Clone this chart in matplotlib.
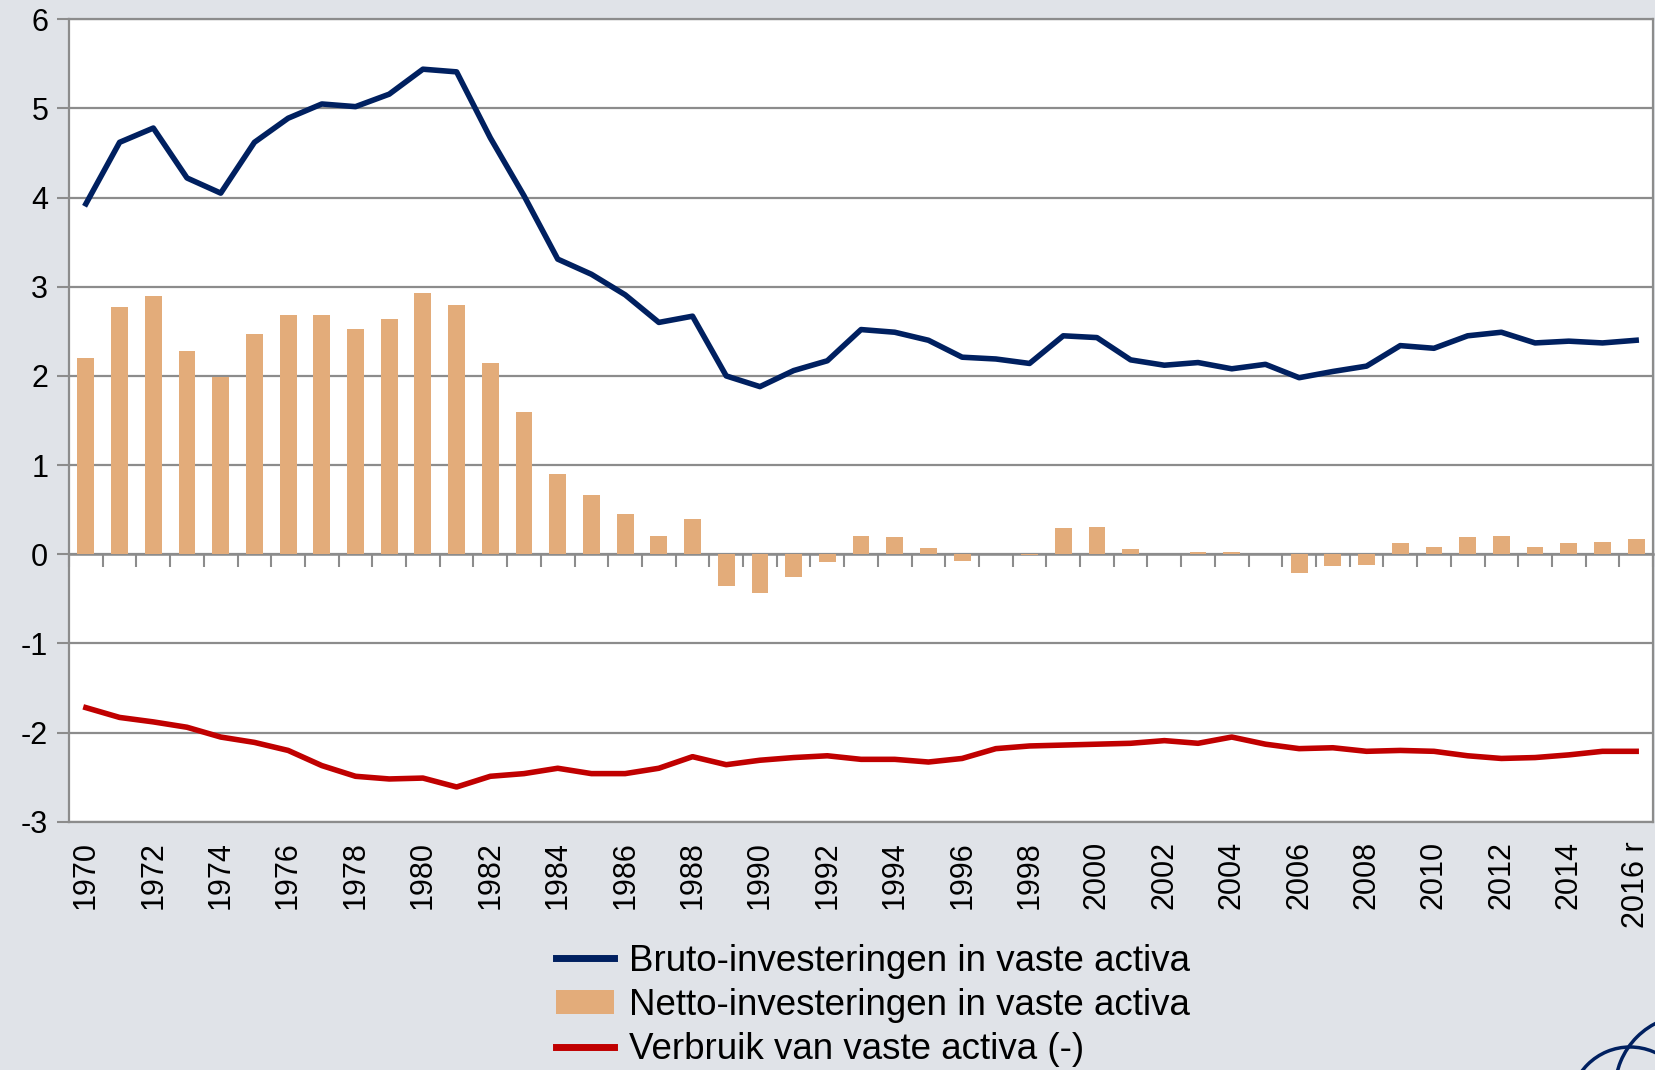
import matplotlib
matplotlib.use("Agg")
import matplotlib.pyplot as plt
import numpy as np
from matplotlib.patches import Arc, Patch
from matplotlib.lines import Line2D

years = list(range(1970, 2017))

bruto = [3.93, 4.62, 4.78, 4.22, 4.05, 4.62, 4.89, 5.05, 5.02, 5.16,
         5.44, 5.41, 4.67, 4.02, 3.31, 3.14, 2.91, 2.60, 2.67, 2.00,
         1.88, 2.06, 2.17, 2.52, 2.49, 2.40, 2.21, 2.19, 2.14, 2.45,
         2.43, 2.18, 2.12, 2.15, 2.08, 2.13, 1.98, 2.05, 2.11, 2.34,
         2.31, 2.45, 2.49, 2.37, 2.39, 2.37, 2.40]

netto = [2.20, 2.77, 2.90, 2.28, 1.99, 2.47, 2.68, 2.68, 2.53, 2.64,
         2.93, 2.79, 2.15, 1.59, 0.90, 0.67, 0.45, 0.20, 0.40, -0.36,
         -0.43, -0.25, -0.09, 0.21, 0.19, 0.07, -0.07, 0.005, -0.01, 0.30,
         0.31, 0.06, 0.005, 0.03, 0.02, 0.0, -0.21, -0.13, -0.12, 0.13,
         0.08, 0.19, 0.20, 0.08, 0.13, 0.14, 0.17]

verbruik = [-1.72, -1.83, -1.88, -1.94, -2.05, -2.11, -2.20, -2.37, -2.49, -2.52,
            -2.51, -2.61, -2.49, -2.46, -2.40, -2.46, -2.46, -2.40, -2.27, -2.36,
            -2.31, -2.28, -2.26, -2.30, -2.30, -2.33, -2.29, -2.18, -2.15, -2.14,
            -2.13, -2.12, -2.09, -2.12, -2.05, -2.13, -2.18, -2.17, -2.21, -2.20,
            -2.21, -2.26, -2.29, -2.28, -2.25, -2.21, -2.21]

year_labels = [str(y) if (y - 1970) % 2 == 0 else "" for y in years]
year_labels[-1] = "2016 r"

legend_labels = ["Bruto-investeringen in vaste activa",
                 "Netto-investeringen in vaste activa",
                 "Verbruik van vaste activa (-)"]

NAVY = "#002060"
TAN = "#E3AC7A"
RED = "#C00000"
BG = "#E0E3E8"
GRID = "#8C8C8C"

plt.rcParams["font.family"] = ["Liberation Sans", "DejaVu Sans"]
plt.rcParams["axes.unicode_minus"] = False

fig = plt.figure(figsize=(16.56, 10.70), dpi=100, facecolor=BG)
ax = fig.add_axes([0.0417, 0.232, 0.9565, 0.750])
ax.set_facecolor("white")

x = np.arange(len(years))
ax.bar(x, netto, width=0.5, color=TAN, zorder=2)
ax.plot(x, bruto, color=NAVY, lw=4, zorder=3)
ax.plot(x, verbruik, color=RED, lw=4, zorder=3)

ax.set_xlim(-0.5, len(years) - 0.5)
ax.set_ylim(-3, 6)
ax.set_yticks(range(-3, 7))
ax.yaxis.grid(True, color=GRID, lw=1.6, zorder=1)
ax.set_axisbelow(True)

ax.set_xticks(x)
ax.set_xticklabels(year_labels, rotation=90, fontsize=22)
ax.tick_params(axis="x", length=0, pad=14)
ax.tick_params(axis="y", length=9, width=1.5, color=GRID, labelsize=22, pad=6, direction="out")

for side in ["left", "right", "top", "bottom"]:
    ax.spines[side].set_color(GRID)
    ax.spines[side].set_linewidth(1.6)

# category tick marks along the zero line
zero_axis = ax.secondary_xaxis(1 / 3)
zero_axis.set_xticks(np.arange(len(years) + 1) - 0.5)
zero_axis.set_xticklabels([])
zero_axis.tick_params(axis="x", direction="out", length=9, width=1.5, color=GRID)
zero_axis.spines["bottom"].set_color(GRID)
zero_axis.spines["bottom"].set_linewidth(1.8)

handles = [Line2D([], [], color=NAVY, lw=5),
           Patch(facecolor=TAN, edgecolor="none"),
           Line2D([], [], color=RED, lw=5)]
fig.legend(handles, legend_labels, loc="upper left",
           bbox_to_anchor=(0.3357, 0.118), frameon=False, fontsize=26.5,
           handlelength=1.58, handleheight=0.65, handletextpad=0.4,
           labelspacing=0.25, borderpad=0, borderaxespad=0)

# logo fragment in the bottom-right corner
fig.patches.append(Arc((1630, -37), 120, 120, lw=2.5, color=NAVY, transform=None))
fig.patches.append(Arc((1690, -20), 150, 150, lw=2.5, color=NAVY, transform=None))

fig.savefig("out.png", dpi=100, facecolor=BG)
